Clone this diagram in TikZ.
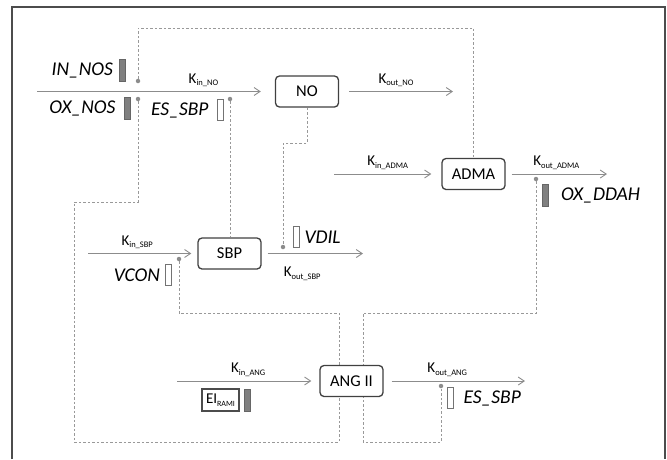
\documentclass[tikz,border=0pt]{standalone}
\usepackage{fontspec}
\setmainfont{Carlito}
\usetikzlibrary{arrows.meta,positioning,backgrounds}

\newcommand{\krate}[1]{K\raisebox{-2.5pt}{\fontsize{8.5}{9}\selectfont #1}}

\begin{document}
\begin{tikzpicture}[x=1pt, y=-1pt, node distance=4pt,
    every node/.style={font=\fontsize{15}{17}\selectfont},
    pool/.style={draw=black!75, line width=1.3pt, rounded corners=4pt, fill=white, minimum width=63pt, minimum height=31pt, inner sep=0pt, font=\fontsize{16.5}{18}\selectfont},
    flux/.style={draw=black!45, line width=0.9pt, -{Straight Barb[length=6pt,width=8pt]}},
    ctrl/.style={draw=black!40, line width=0.8pt, dash pattern=on 2.5pt off 2pt},
    hub/.style={circle, fill=black!45, inner sep=0pt, minimum size=4.5pt},
    darkbar/.style={draw=black!60, fill=black!50, line width=0.6pt, minimum width=6pt, minimum height=22pt, inner sep=0pt},
    whitebar/.style={draw=black!55, fill=white, line width=0.6pt, minimum width=6pt, minimum height=21pt, inner sep=0pt},
    tag/.style={font=\fontsize{19.5}{22}\selectfont\itshape, inner sep=1pt}]
    \useasboundingbox (0,0) rectangle (667,459);
    \draw[black!70, line width=1.6pt] (12,459) -- (12,7) -- (665,7) -- (665,459);

    \node (NO) [pool] at (307,91.5) {NO};
    \node (ADMA) [pool] at (473.5,174) {ADMA};
    \node (SBP) [pool] at (229.5,253.5) {SBP};
    \node (ANG) [pool] at (351.5,381) {ANG II};

    \coordinate (noin) at (37,91.5);
    \coordinate (noout) at (453,91.5);
    \coordinate (admain) at (334,174);
    \coordinate (admaout) at (607,174);
    \coordinate (sbpin) at (88,253.5);
    \coordinate (sbpout) at (363,253.5);
    \coordinate (angin) at (177,381);
    \coordinate (angout) at (525,381);

    \draw[flux, shorten >=14pt] (noin) -- node[pos=0.7, above=1pt] (kinno) {\krate{in\_NO}} (NO);
    \draw[flux, shorten <=10pt] (NO) -- node[above=1pt] (koutno) {\krate{out\_NO}} (noout);
    \draw[flux, shorten >=10pt] (admain) -- node[above=1pt] (kinadma) {\krate{in\_ADMA}} (ADMA);
    \draw[flux, shorten <=6pt] (ADMA) -- node[above=1pt] (koutadma) {\krate{out\_ADMA}} (admaout);
    \draw[flux, shorten >=6pt] (sbpin) -- node[pos=0.45, above=1pt] (kinsbp) {\krate{in\_SBP}} (SBP);
    \draw[flux, shorten <=6pt] (SBP) -- node[pos=0.4, below=10pt] (koutsbp) {\krate{out\_SBP}} (sbpout);
    \draw[flux, shorten >=8pt] (angin) -- node[above=1pt] (kinang) {\krate{in\_ANG}} (ANG);
    \draw[flux, shorten <=8pt] (ANG) -- node[pos=0.45, above=1pt] (koutang) {\krate{out\_ANG}} (angout);

    \node (innosbar) [darkbar] at (122.5,70) {};
    \node (innos) [tag, left=5pt of innosbar] {IN\_NOS};
    \node (hubinnos) [hub] at (138,81) {};
    \node (oxnosbar) [darkbar] at (127,108) {};
    \node (oxnos) [tag, left=7pt of oxnosbar] {OX\_NOS};
    \node (huboxnos) [hub] at (138,99) {};
    \node (essbpbar) [whitebar] at (220,110) {};
    \node (essbp) [tag, left=7pt of essbpbar] {ES\_SBP};
    \node (hubessbp) [hub] at (230,99) {};
    \node (vdilbar) [whitebar] at (296,237) {};
    \node (vdil) [tag, right=4pt of vdilbar] {VDIL};
    \node (hubvdil) [hub] at (283,247) {};
    \node (vconbar) [whitebar] at (168.5,275) {};
    \node (vcon) [tag, left=4pt of vconbar] {VCON};
    \node (hubvcon) [hub] at (179,259) {};
    \node (oxddahbar) [darkbar] at (545.5,195.5) {};
    \node (oxddah) [tag, right=11pt of oxddahbar] {OX\_DDAH};
    \node (hubddah) [hub] at (536,179) {};
    \node (eirami) [draw=black!70, line width=1.2pt, minimum width=37pt, minimum height=22pt, inner sep=1pt] at (220.5,400) {EI\raisebox{-3pt}{\fontsize{8}{9}\selectfont RAMI}};
    \node (eiramibar) [darkbar, right=4pt of eirami] {};
    \node (essbpbar2) [whitebar] at (450,398) {};
    \node (essbp2) [tag, right=9pt of essbpbar2] {ES\_SBP};
    \node (hubessbp2) [hub] at (441,386) {};

    \begin{scope}[on background layer]
        \draw[ctrl] (hubinnos) -- (138,28) -| (ADMA);
        \draw[ctrl] (huboxnos) -- (138,202) -- (74,202) -- (74,442) -- (339,442) -- (339,313) -- (179,313) -- (hubvcon);
        \draw[ctrl] (hubessbp) -- (hubessbp |- SBP.north);
        \draw[ctrl] (NO) -- (307,143) -- (283,143) -- (hubvdil);
        \draw[ctrl] (hubddah) -- (536,313) -- (363,313) -- (363,442) -- (441,442) -- (hubessbp2);
    \end{scope}
\end{tikzpicture}
\end{document}
